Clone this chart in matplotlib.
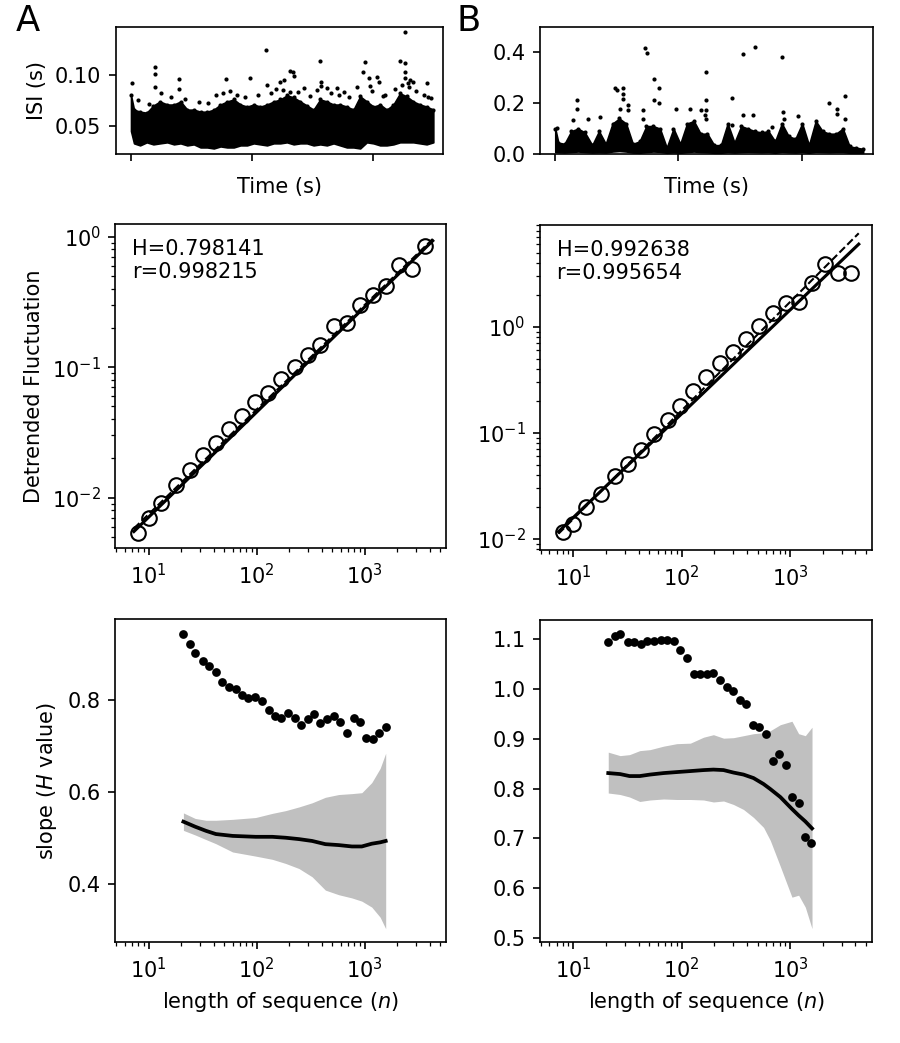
import numpy as np
import matplotlib.pyplot as plt

# ---------------- top row: ISI time series ----------------
# common time grid (s) for the dense band of the ISI clouds
t_grid = [0, 25, 75, 130, 185, 240, 300, 355, 410, 465, 520, 575, 630, 685, 740, 795,
          850, 905, 960, 1015, 1070, 1125, 1180, 1235, 1290, 1345, 1400, 1455, 1510,
          1565, 1620, 1675, 1730, 1785, 1840, 1895, 1950, 2005, 2060, 2115, 2170,
          2225, 2280, 2335, 2390, 2445, 2500]

isi_a_low = [0.045, 0.033, 0.031, 0.034, 0.032, 0.033, 0.034, 0.032, 0.033, 0.031,
             0.032, 0.029, 0.029, 0.028, 0.030, 0.029, 0.029, 0.031, 0.031, 0.033,
             0.032, 0.031, 0.033, 0.033, 0.034, 0.032, 0.033, 0.033, 0.031, 0.032,
             0.031, 0.033, 0.031, 0.029, 0.029, 0.028, 0.034, 0.033, 0.031, 0.031,
             0.032, 0.034, 0.034, 0.034, 0.033, 0.032, 0.034]
isi_a_high = [0.080, 0.066, 0.064, 0.063, 0.070, 0.074, 0.071, 0.071, 0.074, 0.066,
              0.066, 0.064, 0.064, 0.066, 0.071, 0.074, 0.076, 0.071, 0.069, 0.071,
              0.069, 0.071, 0.074, 0.076, 0.080, 0.078, 0.074, 0.070, 0.066, 0.076,
              0.074, 0.071, 0.071, 0.069, 0.066, 0.079, 0.074, 0.069, 0.071, 0.066,
              0.071, 0.082, 0.079, 0.074, 0.071, 0.069, 0.066]
# sparse points above the cloud
isi_a_out_t = [8, 196, 196, 196, 397, 397, 785, 986, 1116, 1124, 1234, 1262, 1311, 1339,
               1344, 1317, 1427, 1565, 1573, 1573, 1620, 1703, 1758, 1917, 1937, 1970,
               1978, 2033, 2047, 2083, 2226, 2262, 2262, 2267, 2262, 2287, 2309, 2336,
               2446, 2460,
               60, 150, 250, 330, 450, 560, 640, 700, 760, 820, 880, 940, 1050, 1160,
               1200, 1260, 1380, 1480, 1540, 1650, 1720, 1800, 1870, 1990, 2100, 2180,
               2240, 2300, 2360, 2420, 2480]
isi_a_out_v = [0.0924, 0.1082, 0.1010, 0.0878, 0.0961, 0.0862, 0.0961, 0.0974, 0.124,
               0.0901, 0.0934, 0.0951, 0.1043, 0.1033, 0.0990, 0.0836, 0.0868, 0.1141,
               0.0934, 0.0891, 0.0868, 0.0868, 0.0836, 0.1033, 0.1128, 0.0967, 0.0891,
               0.0984, 0.0934, 0.0793, 0.1141, 0.1418, 0.1115, 0.1033, 0.0967, 0.0918,
               0.0951, 0.0934, 0.0924, 0.0786,
               0.075, 0.072, 0.082, 0.078, 0.076, 0.074, 0.073, 0.080, 0.082, 0.084,
               0.080, 0.078, 0.080, 0.082, 0.086, 0.085, 0.083, 0.079, 0.085, 0.082,
               0.080, 0.078, 0.088, 0.084, 0.080, 0.086, 0.090, 0.088, 0.084, 0.080,
               0.077]

isi_b_low = [0.008, 0.007, 0.006, 0.008, 0.010, 0.008, 0.006, 0.007, 0.006, 0.010,
             0.012, 0.010, 0.006, 0.005, 0.008, 0.010, 0.009, 0.005, 0.007, 0.005,
             0.008, 0.010, 0.008, 0.007, 0.005, 0.005, 0.008, 0.006, 0.008, 0.009,
             0.008, 0.007, 0.008, 0.005, 0.009, 0.007, 0.006, 0.008, 0.005, 0.009,
             0.008, 0.007, 0.008, 0.008, 0.005, 0.005, 0.005]
isi_b_high = [0.10, 0.045, 0.04, 0.09, 0.10, 0.085, 0.035, 0.09, 0.04, 0.12,
              0.14, 0.12, 0.04, 0.05, 0.11, 0.11, 0.10, 0.025, 0.10, 0.04,
              0.12, 0.13, 0.08, 0.08, 0.035, 0.035, 0.12, 0.045, 0.11, 0.10,
              0.09, 0.085, 0.09, 0.05, 0.12, 0.07, 0.06, 0.12, 0.035, 0.13,
              0.09, 0.08, 0.08, 0.10, 0.03, 0.025, 0.02]
isi_b_out_t = [14, 143, 179, 179, 262, 366, 482, 504, 523, 551, 551, 551, 592, 592, 716,
               716, 730, 744, 799, 799, 840, 840, 984, 1096, 1185, 1212, 1226, 1226, 1226,
               1226, 1433, 1433, 1524, 1524, 1603, 1625, 1763, 1840, 1846, 1860, 1970,
               2223, 2287, 2287, 2356, 2356]
isi_b_out_v = [0.103, 0.135, 0.212, 0.179, 0.136, 0.146, 0.261, 0.254, 0.179, 0.258,
               0.238, 0.215, 0.192, 0.172, 0.172, 0.139, 0.417, 0.397, 0.294, 0.212,
               0.261, 0.199, 0.176, 0.176, 0.172, 0.152, 0.321, 0.212, 0.172, 0.139,
               0.219, 0.113, 0.395, 0.152, 0.152, 0.421, 0.106, 0.381, 0.166, 0.139,
               0.150, 0.199, 0.179, 0.159, 0.228, 0.139]

# ---------------- middle row: DFA ----------------
n_box = [8, 10, 13, 18, 24, 32, 42, 56, 74, 97, 128, 169, 225, 299, 391, 518, 688,
         913, 1195, 1575, 2080, 2732, 3640]
fluct_a = [0.00533, 0.00703, 0.00906, 0.0125, 0.0163, 0.0212, 0.0264, 0.0334, 0.0423,
           0.0544, 0.0638, 0.0813, 0.101, 0.125, 0.148, 0.207, 0.217, 0.298, 0.357,
           0.419, 0.607, 0.563, 0.849]
fluct_b = [0.01164, 0.01397, 0.0198, 0.0268, 0.0391, 0.0514, 0.0687, 0.0966, 0.132,
           0.179, 0.249, 0.333, 0.452, 0.581, 0.761, 1.016, 1.355, 1.684, 1.72, 2.57,
           3.88, 3.23, 3.23]
fit_n = [7.3, 4285]
fit_a = [0.0055, 0.93]
ref_a = [0.0058, 0.96]
fit_b = [0.0117, 6.0]
ref_b = [0.0112, 7.6]
label_a = 'H=0.798141\nr=0.998215'
label_b = 'H=0.992638\nr=0.995654'

# ---------------- bottom row: local slopes ----------------
n_seq = [21, 24, 27, 32, 36, 42, 48, 56, 64, 73, 84, 97, 112, 129, 147, 170, 195, 225,
         259, 299, 344, 391, 450, 518, 597, 687, 792, 912, 1028, 1193, 1375, 1571]
slope_a = [0.944, 0.921, 0.902, 0.884, 0.873, 0.860, 0.839, 0.829, 0.823, 0.811, 0.804,
           0.806, 0.798, 0.778, 0.766, 0.760, 0.772, 0.760, 0.745, 0.759, 0.769, 0.749,
           0.758, 0.764, 0.751, 0.729, 0.761, 0.751, 0.716, 0.715, 0.727, 0.740]
slope_b = [1.093, 1.107, 1.110, 1.093, 1.093, 1.089, 1.095, 1.095, 1.097, 1.097, 1.095,
           1.077, 1.061, 1.030, 1.030, 1.030, 1.031, 1.018, 1.004, 0.995, 0.978, 0.970,
           0.928, 0.923, 0.910, 0.856, 0.870, 0.848, 0.784, 0.771, 0.702, 0.691]

surr_n_a = [21, 27, 34, 42, 60, 98, 140, 186, 247, 327, 434, 576, 764, 944, 1167, 1396, 1571]
surr_hi_a = [0.554, 0.542, 0.538, 0.538, 0.540, 0.544, 0.553, 0.559, 0.567, 0.576, 0.588,
             0.594, 0.596, 0.598, 0.620, 0.651, 0.684]
surr_lo_a = [0.516, 0.506, 0.496, 0.487, 0.469, 0.460, 0.453, 0.444, 0.433, 0.415, 0.386,
             0.376, 0.369, 0.362, 0.349, 0.327, 0.302]
surr_mean_a = [0.535, 0.524, 0.515, 0.508, 0.504, 0.502, 0.502, 0.500, 0.497, 0.493,
               0.486, 0.484, 0.481, 0.481, 0.487, 0.490, 0.493]

surr_n_b = [21, 27, 33, 41, 51, 68, 90, 120, 159, 196, 243, 300, 371, 459, 568, 655, 810,
            1038, 1196, 1378, 1589]
surr_hi_b = [0.873, 0.866, 0.868, 0.876, 0.878, 0.885, 0.890, 0.891, 0.903, 0.908, 0.901,
             0.902, 0.906, 0.910, 0.912, 0.916, 0.928, 0.935, 0.910, 0.906, 0.923]
surr_lo_b = [0.791, 0.788, 0.783, 0.774, 0.777, 0.779, 0.778, 0.778, 0.777, 0.773, 0.775,
             0.768, 0.758, 0.742, 0.722, 0.696, 0.644, 0.582, 0.586, 0.562, 0.519]
surr_mean_b = [0.831, 0.829, 0.825, 0.825, 0.828, 0.831, 0.833, 0.835, 0.837, 0.838, 0.837,
               0.832, 0.828, 0.821, 0.809, 0.799, 0.783, 0.759, 0.746, 0.734, 0.720]

fs = 10
plt.rcParams['font.size'] = fs
fig = plt.figure(figsize=(6, 1043 / 150), dpi=150)

ax_ta = fig.add_axes([0.1289, 0.8523, 0.3633, 0.1218])
ax_tb = fig.add_axes([0.6000, 0.8523, 0.3700, 0.1218])
ax_ma = fig.add_axes([0.1283, 0.4743, 0.3672, 0.3109])
ax_mb = fig.add_axes([0.6000, 0.4727, 0.3689, 0.3116])
ax_ba = fig.add_axes([0.1283, 0.0968, 0.3672, 0.3097])
ax_bb = fig.add_axes([0.6000, 0.0968, 0.3689, 0.3087])

# time series
for ax, lo, hi, ot, ov in [(ax_ta, isi_a_low, isi_a_high, isi_a_out_t, isi_a_out_v),
                           (ax_tb, isi_b_low, isi_b_high, isi_b_out_t, isi_b_out_v)]:
    ax.fill_between(t_grid, lo, hi, color='black', lw=0.8)
    ax.plot(t_grid, hi, 'o', color='black', ms=2.0, mew=0)
    ax.plot(ot, ov, 'o', color='black', ms=2.0, mew=0)
    ax.set_xlim(-124, 2580)
    ax.set_xticks([0, 1000, 2000])
    ax.set_xticklabels([])
    ax.set_xlabel('Time (s)')
ax_ta.set_ylim(0.0225, 0.147)
ax_ta.set_yticks([0.05, 0.10])
ax_ta.set_ylabel('ISI (s)')
ax_tb.set_ylim(0, 0.5)
ax_tb.set_yticks([0.0, 0.2, 0.4])

# DFA
for ax, fl, fit, ref, lab in [(ax_ma, fluct_a, fit_a, ref_a, label_a),
                              (ax_mb, fluct_b, fit_b, ref_b, label_b)]:
    ax.plot(fit_n, ref, '--', color='black', lw=1.0)
    ax.plot(fit_n, fit, '-', color='black', lw=1.5)
    ax.plot(n_box, fl, 'o', mfc='none', mec='black', ms=7, mew=1.0)
    ax.set_xscale('log')
    ax.set_yscale('log')
    ax.set_xlim(4.93, 5680)
    ax.text(0.05, 0.955, lab, transform=ax.transAxes, va='top', ha='left')
ax_ma.set_ylim(0.00409, 1.25)
ax_mb.set_ylim(0.00787, 9.1)
ax_ma.set_ylabel('Detrended Fluctuation')

# local slopes
for ax, sl, sn, hi, lo, mn in [(ax_ba, slope_a, surr_n_a, surr_hi_a, surr_lo_a, surr_mean_a),
                               (ax_bb, slope_b, surr_n_b, surr_hi_b, surr_lo_b, surr_mean_b)]:
    ax.fill_between(sn, lo, hi, color='#c0c0c0', lw=0)
    ax.plot(sn, mn, '-', color='black', lw=1.8)
    ax.plot(n_seq, sl, 'o', color='black', ms=4.2, mew=0)
    ax.set_xscale('log')
    ax.set_xlim(4.93, 5680)
    ax.set_xlabel('length of sequence ($n$)')
ax_ba.set_ylim(0.273, 0.976)
ax_ba.set_yticks([0.4, 0.6, 0.8])
ax_ba.set_ylabel('slope ($H$ value)')
ax_bb.set_ylim(0.492, 1.138)
ax_bb.set_yticks([0.5, 0.6, 0.7, 0.8, 0.9, 1.0, 1.1])

fig.text(16 / 900, 1 - 4 / 1043, 'A', fontsize=17, va='top', ha='left')
fig.text(457 / 900, 1 - 4 / 1043, 'B', fontsize=17, va='top', ha='left')

fig.savefig('out.png', dpi=150)
plt.close()
